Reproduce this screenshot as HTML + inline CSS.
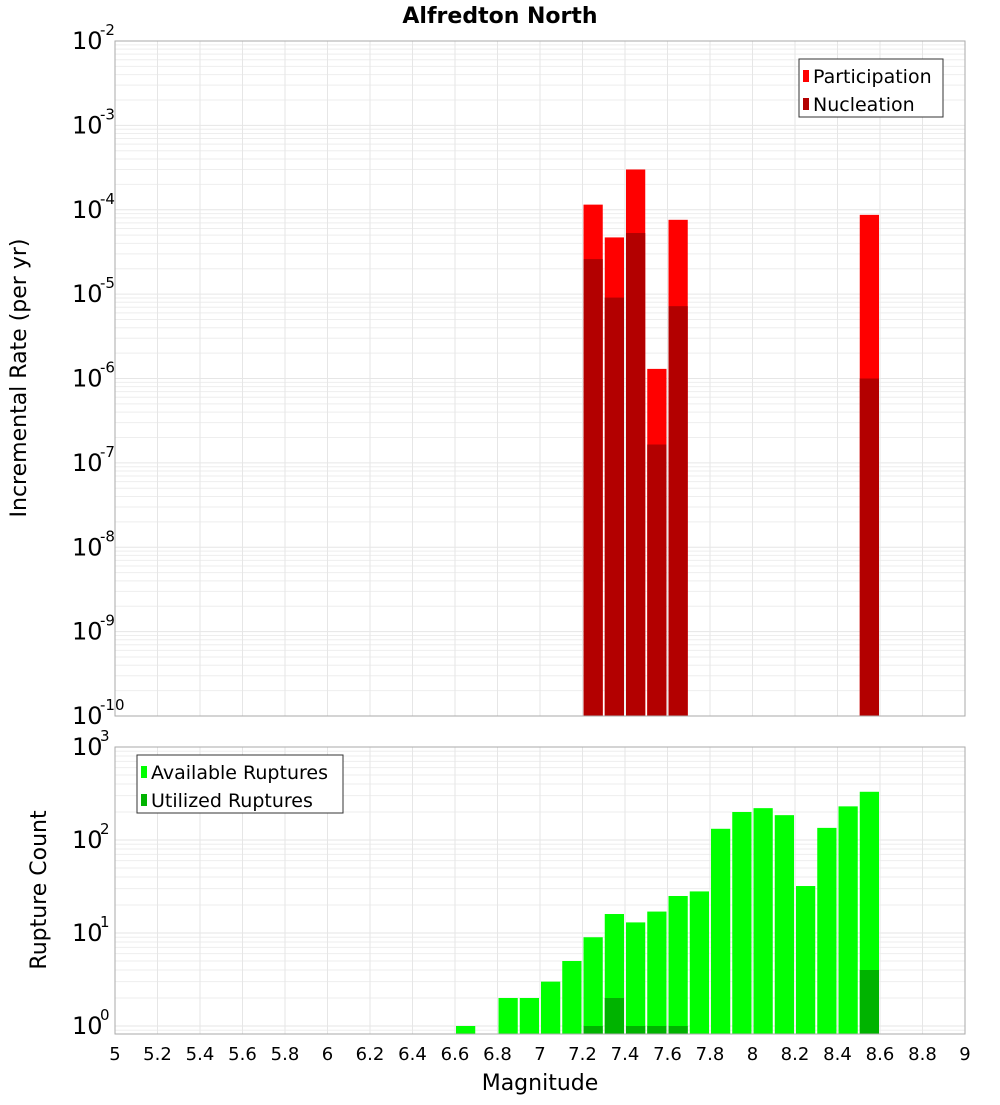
<!DOCTYPE html>
<html><head><meta charset="utf-8"><style>
body{margin:0;background:#fff;}
svg text{font-family:"DejaVu Sans","Liberation Sans",sans-serif;}
</style></head><body>
<svg id="chart" width="1000" height="1100" xmlns="http://www.w3.org/2000/svg"></svg>
<script>
const topMags=[7.25,7.35,7.45,7.55,7.65,8.55];
const participation=[1.15e-4,4.7e-5,3.0e-4,1.3e-6,7.6e-5,8.7e-5];
const nucleation=[2.6e-5,9.1e-6,5.3e-5,1.65e-7,7.2e-6,1.0e-6];
const botMags=[6.65,6.85,6.95,7.05,7.15,7.25,7.35,7.45,7.55,7.65,7.75,7.85,7.95,8.05,8.15,8.25,8.35,8.45,8.55];
const available=[1,2,2,3,5,9,16,13,17,25,28,132,200,220,185,32,135,230,330];
const utilMags=[7.25,7.35,7.45,7.55,7.65,8.55];
const utilized=[1,2,1,1,1,4];
const xTicks=[5,5.2,5.4,5.6,5.8,6,6.2,6.4,6.6,6.8,7,7.2,7.4,7.6,7.8,8,8.2,8.4,8.6,8.8,9];
const topExps=[-2,-3,-4,-5,-6,-7,-8,-9,-10];
const botExps=[0,1,2,3];

const svg=document.getElementById('chart');
const NS='http://www.w3.org/2000/svg';
function mk(t,a,p){const e=document.createElementNS(NS,t);for(const k in a)e.setAttribute(k,a[k]);(p||svg).appendChild(e);return e;}
const X0=115,X1=965;
const xs=m=>X0+(m-5)/4*(X1-X0);
const T0=41,T1=716;
const yt=v=>T0+(-2-Math.log10(v))/8*(T1-T0);
const B0=747,B1=1034,BD=93;
const yb=v=>B0+(3-Math.log10(v))*BD;

function grid(y0,y1,lo,hi,yf,name){
  const g=mk('g',{});
  
  
  for(let e=lo;e<hi;e++)for(let k=1;k<10;k++){const y=yf(k*Math.pow(10,e));if(y>=y0&&y<=y1)mk('line',{x1:X0,x2:X1,y1:y,y2:y,stroke:k==1?'#e6e6e6':'#eeeeee','stroke-width':1},g);}
  xTicks.forEach(t=>mk('line',{x1:xs(t),x2:xs(t),y1:y0,y2:y1,stroke:'#e6e6e6'},g));
}
grid(T0,T1,-10,-1,yt,'top-grid');
grid(B0,B1,-1,3,yb,'bottom-grid');
const bw=(X1-X0)/40;
function bars(mags,vals,yf,base,color,name){
  mags.forEach((m,i)=>{const y=yf(vals[i]);const r=mk('rect',{x:xs(m)-bw/2+1,y:y,width:bw-2,height:base-y,fill:color});
  
  });
}
bars(topMags,participation,yt,T1,'#ff0000','participation-bar');
bars(topMags,nucleation,yt,T1,'#b30000','nucleation-bar');
bars(botMags,available,yb,B1,'#00ff00','available-bar');
bars(utilMags,utilized,yb,B1,'#00b300','utilized-bar');
mk('rect',{x:X0,y:T0,width:X1-X0,height:T1-T0,fill:'none',stroke:'#aaa'});
mk('rect',{x:X0,y:B0,width:X1-X0,height:B1-B0,fill:'none',stroke:'#aaa'});

function ylab(exps,yf){exps.forEach(e=>{const y=yf(Math.pow(10,e));
  const t=mk('text',{x:72,y:y+8,'font-size':24,fill:'#000'});t.textContent='10';
  
  const s=mk('text',{x:100,y:y-6,'font-size':15,fill:'#000'});s.textContent=String(e);});}
ylab(topExps,yt);ylab(botExps,yb);
xTicks.forEach(t=>{const e=mk('text',{x:xs(t),y:1060,'font-size':18,'text-anchor':'middle'});e.textContent=String(t);
  });
let e;
e=mk('text',{x:500,y:23,'font-size':22,'font-weight':'bold','text-anchor':'middle'});e.textContent='Alfredton North';
e=mk('text',{x:540,y:1090,'font-size':22,'text-anchor':'middle'});e.textContent='Magnitude';
e=mk('text',{x:0,y:0,'font-size':22,'text-anchor':'middle',transform:'translate(26,378) rotate(-90)'});e.textContent='Incremental Rate (per yr)';
e=mk('text',{x:0,y:0,'font-size':22,'text-anchor':'middle',transform:'translate(46,890) rotate(-90)'});e.textContent='Rupture Count';

function legend(x,y,w,items,name){const g=mk('g',{});
  mk('rect',{x:x,y:y,width:w,height:58,fill:'#fff',stroke:'#333'},g);
  items.forEach((it,i)=>{mk('rect',{x:x+4,y:y+11+i*28,width:6,height:12,fill:it[1]},g);
   const t=mk('text',{x:x+14,y:y+24+i*28,'font-size':19},g);t.textContent=it[0];});}
legend(799,59,144,[['Participation','#ff0000'],['Nucleation','#b30000']],'top-legend');
legend(137,755,206,[['Available Ruptures','#00ff00'],['Utilized Ruptures','#00b300']],'bottom-legend');
</script>
</body></html>
